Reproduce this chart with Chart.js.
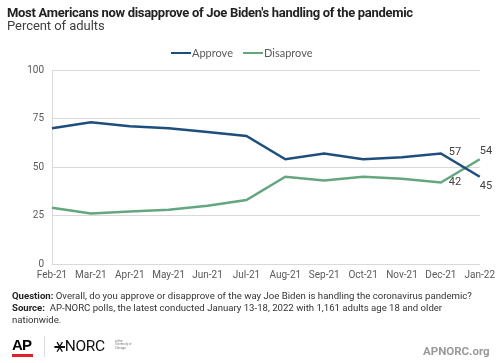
<!DOCTYPE html>
<html>
<head>
<meta charset="utf-8">
<script src="https://cdn.jsdelivr.net/npm/chart.js@4/dist/chart.umd.min.js"></script>
<style>
  html, body { margin: 0; padding: 0; background: #fff; }
  #wrap { position: relative; width: 500px; height: 363px; overflow: hidden; font-family: Roboto, sans-serif; }
  #chart { position: absolute; left: 0; top: 0; }
  .t { position: absolute; white-space: nowrap; }
  #title { left: 7px; top: 5px; font-size: 13px; line-height: 15px; font-weight: bold; color: #222; letter-spacing: -0.3px; }
  #subtitle { left: 7px; top: 17.5px; font-size: 13px; line-height: 15px; color: #404040; letter-spacing: -0.05px; }
  #legend { left: 0; top: 46px; width: 500px; height: 14px; font-family: Lato, sans-serif; font-size: 11px; color: #595959; }
  .li { position: absolute; top: 0; line-height: 14px; }
  .li i { position: absolute; top: 6px; width: 20px; height: 2px; left: 0; }
  .li span { position: absolute; left: 21px; top: 0; }
  #foot { left: 12px; top: 290px; font-size: 9.6px; line-height: 12.2px; color: #333; letter-spacing: 0; }
  #foot b { color: #222; }
  #ap { left: 12px; top: 336px; font-family: Arial, "Liberation Sans", sans-serif; font-weight: 900; font-size: 15px; letter-spacing: -0.8px; color: #000; line-height: 18px; }
  #apbar { position: absolute; left: 12px; top: 354px; width: 21px; height: 3px; background: #e3202a; }
  #sep { position: absolute; left: 44px; top: 336px; width: 1px; height: 21px; background: #ddd; }
  #norc { left: 54px; top: 336px; font-size: 15.5px; line-height: 18px; color: #111; letter-spacing: -0.3px; }
  #norc span { font-family: "DejaVu Sans", sans-serif; font-size: 19px; line-height: 18px; vertical-align: -1px; }
  #norcs { left: 115px; top: 340px; font-size: 3px; line-height: 3.4px; color: #777; }
  #url { left: 423px; top: 344px; font-size: 11.5px; line-height: 14px; font-weight: bold; color: #9a9a9a; }
</style>
</head>
<body>
<div id="wrap">
  <canvas id="chart" width="500" height="363"></canvas>
  <div class="t" id="title">Most Americans now disapprove of Joe Biden's handling of the pandemic</div>
  <div class="t" id="subtitle">Percent of adults</div>
  <div class="t" id="legend"></div>
  <div class="t" id="foot"><b>Question:</b> Overall, do you approve or disapprove of the way Joe Biden is handling the coronavirus pandemic?<br><b>Source:</b>&nbsp; AP-NORC polls, the latest conducted January 13-18, 2022 with 1,161 adults age 18 and older<br>nationwide.</div>
  <div class="t" id="ap">AP</div>
  <div id="apbar"></div>
  <div id="sep"></div>
  <div class="t" id="norc"><span>&#x26B9;</span>NORC</div>
  <div class="t" id="norcs">at the<br>University of<br>Chicago</div>
  <div class="t" id="url">APNORC.org</div>
</div>
<script>
const months = ['Feb-21', 'Mar-21', 'Apr-21', 'May-21', 'Jun-21', 'Jul-21', 'Aug-21', 'Sep-21', 'Oct-21', 'Nov-21', 'Dec-21', 'Jan-22'];
const approve = [70, 73, 71, 70, 68, 66, 54, 57, 54, 55, 57, 45];
const disapprove = [29, 26, 27, 28, 30, 33, 45, 43, 45, 44, 42, 54];
const yTicks = [0, 25, 50, 75, 100];

const navy = '#1d4e7d';
const green = '#64a67f';

// value labels on the last two points of each line
const endLabels = {
  id: 'endLabels',
  afterDatasetsDraw(chart) {
    const ctx = chart.ctx;
    ctx.save();
    ctx.font = '11px Roboto';
    ctx.fillStyle = '#404040';
    ctx.textAlign = 'left';
    ctx.textBaseline = 'middle';
    const offs = [
      [[8, -1], [0, 10]],   // approve: Dec, Jan
      [[8, 0], [0, -8]]     // disapprove: Dec, Jan
    ];
    chart.data.datasets.forEach((ds, i) => {
      const pts = chart.getDatasetMeta(i).data;
      const n = ds.data.length;
      [n - 2, n - 1].forEach((idx, k) => {
        const p = pts[idx];
        ctx.fillText(String(ds.data[idx]), p.x + offs[i][k][0], p.y + offs[i][k][1]);
      });
    });
    ctx.restore();
  }
};

const chart = new Chart(document.getElementById('chart'), {
  type: 'line',
  data: {
    labels: months,
    datasets: [
      { label: 'Approve', data: approve, borderColor: navy, backgroundColor: navy },
      { label: 'Disaprove', data: disapprove, borderColor: green, backgroundColor: green }
    ]
  },
  options: {
    responsive: false,
    animation: false,
    layout: { padding: { left: 0, top: 70, right: 15, bottom: 77 } },
    elements: {
      line: { borderWidth: 2.5, tension: 0 },
      point: { radius: 0, hoverRadius: 0 }
    },
    plugins: { legend: { display: false }, tooltip: { enabled: false } },
    scales: {
      x: {
        grid: { display: false, drawTicks: false },
        border: { display: false },
        ticks: { color: '#595959', font: { family: 'Roboto', size: 10 }, padding: 5, maxRotation: 0, autoSkip: false },
        afterFit: (s) => { s.height = 22; }
      },
      y: {
        min: 0,
        max: 100,
        afterBuildTicks: (s) => { s.ticks = yTicks.map(v => ({ value: v })); },
        grid: { color: '#d9d9d9', drawTicks: false },
        border: { display: true, color: '#d9d9d9' },
        ticks: { color: '#595959', font: { family: 'Roboto', size: 10 }, padding: 8 },
        afterFit: (s) => { s.width = 52; }
      }
    }
  },
  plugins: [endLabels]
});

// legend built from the datasets
const legendX = [171, 243];
const lg = document.getElementById('legend');
chart.data.datasets.forEach((ds, i) => {
  const d = document.createElement('div');
  d.className = 'li';
  d.style.left = legendX[i] + 'px';
  d.innerHTML = '<i style="background:' + ds.borderColor + '"></i><span>' + ds.label + '</span>';
  lg.appendChild(d);
});
</script>
</body>
</html>
